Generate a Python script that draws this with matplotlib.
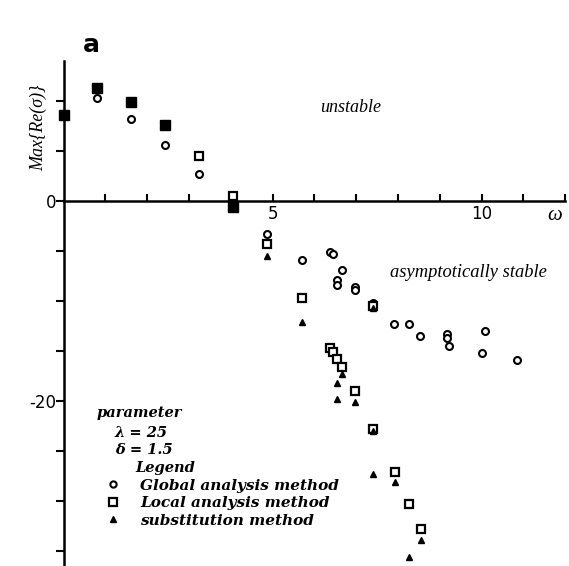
import numpy as np
import matplotlib
matplotlib.use("Agg")
import matplotlib.pyplot as plt
from matplotlib.lines import Line2D

# global analysis method (open circles)
glob_w = [0.81, 1.61, 2.43, 3.24, 4.87, 5.70, 6.38, 6.45, 6.65, 6.55, 6.55, 6.97, 6.97,
          7.40, 7.91, 8.27, 8.53, 9.17, 9.17, 9.23, 10.08, 10.0, 10.84]
glob_s = [10.3, 8.2, 5.55, 2.65, -3.35, -5.95, -5.1, -5.35, -6.9, -7.95, -8.45, -8.6, -8.9,
          -10.2, -12.35, -12.35, -13.5, -13.35, -13.7, -14.55, -13.05, -15.2, -15.9]

# local analysis method (open squares)
loc_w = [3.24, 4.06, 4.87, 5.70, 6.38, 6.45, 6.55, 6.65, 6.97, 7.40, 7.40, 7.93, 8.27, 8.55]
loc_s = [4.45, 0.45, -4.3, -9.7, -14.7, -15.1, -15.8, -16.6, -19.0, -10.5, -22.8, -27.1,
         -30.35, -32.85]

# points where all methods coincide (printed as solid squares)
same_w = [0.0, 0.81, 1.61, 2.43, 4.06]
same_s = [8.55, 11.3, 9.9, 7.55, -0.6]

# substitution method (filled triangles)
sub_w = [4.06, 4.87, 5.70, 6.65, 6.55, 6.55, 6.97, 7.40, 7.40, 7.40, 7.93, 8.55, 8.27]
sub_s = [-0.6, -5.55, -12.1, -17.35, -18.2, -19.8, -20.1, -10.7, -23.0, -27.35, -28.1,
         -33.9, -35.6]

serif = ["Liberation Serif", "DejaVu Serif"]

fig = plt.figure(figsize=(5.69, 5.66), dpi=100)
ax = fig.add_axes([0, 0, 1, 1])
ax.set_xlim(-1.52, 12.09)
ax.set_ylim(-36.55, 20.05)

for s in ["top", "right"]:
    ax.spines[s].set_visible(False)
ax.spines["left"].set_position(("data", 0))
ax.spines["bottom"].set_position(("data", 0))
ax.spines["left"].set_bounds(-36.6, 14)
ax.spines["bottom"].set_bounds(0, 12)
ax.spines["left"].set_linewidth(1.8)
ax.spines["bottom"].set_linewidth(1.8)

ax.set_xticks(np.arange(1, 13))
ax.set_xticklabels(["" if t not in (5, 10) else str(t) for t in range(1, 13)])
ax.set_yticks(np.arange(-35, 15, 5))
ax.set_yticklabels(["" if t not in (0, -20) else str(t) for t in range(-35, 15, 5)])
ax.tick_params(axis="x", direction="in", length=5, width=1.5, labelsize=12, pad=3)
ax.tick_params(axis="y", direction="in", length=6, width=1.5, labelsize=12, pad=5)

ax.plot(glob_w, glob_s, "o", ms=5, mfc="white", mec="black", mew=1.5, clip_on=False)
ax.plot(loc_w, loc_s, "s", ms=5.5, mfc="white", mec="black", mew=1.6, clip_on=False)
ax.plot(same_w, same_s, "s", ms=6.5, mfc="black", mec="black", clip_on=False, zorder=4)
ax.plot(sub_w, sub_s, "^", ms=5, mfc="black", mec="black", clip_on=False)

ax.text(0.160, 0.920, "a", transform=ax.transAxes, fontsize=18, fontweight="bold",
        ha="center", va="center")
ax.text(0.067, 0.775, "Max{Re(σ)}", transform=ax.transAxes, rotation=90, family=serif,
        style="italic", fontsize=13, ha="center", va="center")
ax.text(0.975, 0.620, "ω", transform=ax.transAxes, family=serif, style="italic",
        fontsize=15, ha="center", va="center")
ax.text(0.617, 0.810, "unstable", transform=ax.transAxes, family=serif, style="italic",
        fontsize=13, ha="center", va="center")
ax.text(0.823, 0.519, "asymptotically stable", transform=ax.transAxes, family=serif,
        style="italic", fontsize=13.3, ha="center", va="center")

bserif = ["DejaVu Serif"]
bi = dict(transform=ax.transAxes, family=bserif, style="italic", fontweight="bold",
          fontsize=10.5, va="center")
ax.text(0.170, 0.270, "parameter", **bi)
ax.text(0.202, 0.235, "λ = 25", **bi)
ax.text(0.202, 0.205, "δ = 1.5", **bi)
ax.text(0.237, 0.173, "Legend", **bi)

handles = [
    Line2D([], [], ls="", marker="o", ms=4.5, mfc="white", mec="black", mew=1.5),
    Line2D([], [], ls="", marker="s", ms=5.5, mfc="white", mec="black", mew=1.6),
    Line2D([], [], ls="", marker="^", ms=4.5, mfc="black", mec="black"),
]
labels = ["Global analysis method", "Local analysis method", "substitution method"]
ax.legend(handles, labels, loc="upper left", bbox_to_anchor=(0.185, 0.154), frameon=False,
          prop=dict(family="DejaVu Serif", style="italic", weight="bold", size=11),
          handlelength=1.0, handletextpad=1.3, labelspacing=0.22, borderpad=0, borderaxespad=0)

# ticks on the left spine should point into the plot (to the right)
for t in ax.yaxis.get_major_ticks():
    t.tick1line.set_marker(0)  # TICKRIGHT

fig.savefig("out.png", dpi=100)
